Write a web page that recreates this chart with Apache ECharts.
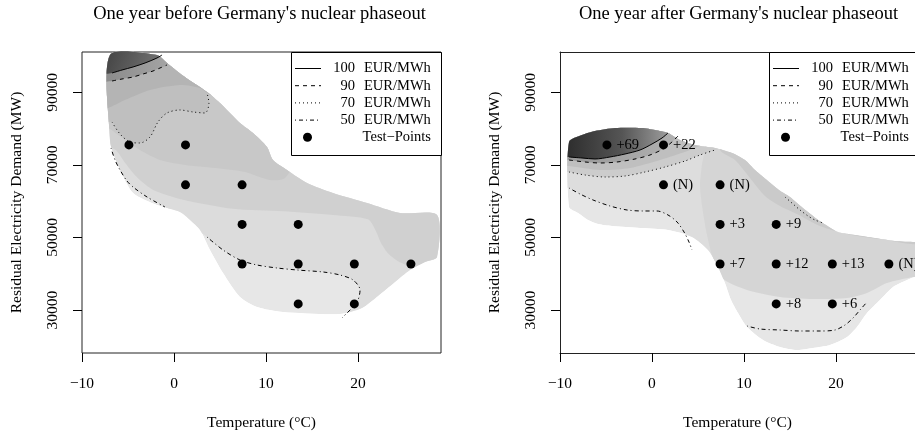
<!DOCTYPE html>
<html><head><meta charset="utf-8">
<script src="https://cdn.jsdelivr.net/npm/echarts@6.0.0/dist/echarts.min.js"></script>
<style>html,body{margin:0;padding:0;background:#fff}#c{width:915px;height:433px}</style>
</head><body><div id="c"></div>
<script>
// ---------- data ----------
const titles = ["One year before Germany's nuclear phaseout", "One year after Germany's nuclear phaseout"];
const xTicks = [-10, 0, 10, 20];
const yTicks = [30000, 50000, 70000, 90000];
const levelNames = ['100', '90', '70', '50'];
const pointTemps = [-4.9, 1.25, 1.25, 7.4, 7.4, 13.5, 7.4, 13.5, 19.6, 25.75, 13.5, 19.6];
const pointDemand = [75500, 75500, 64500, 64500, 53600, 53600, 42700, 42700, 42700, 42700, 31700, 31700];
const afterLabels = ['+69', '+22', '(N)', '(N)', '+3', '+9', '+7', '+12', '+13', '(N)', '+8', '+6'];

// left panel: region of the estimate and price bands (temperature, MW)
const leftOuter = [[-6.96,100276],[-1.85,100276],[-0.76,98072],[0.87,94766],[3.59,90083],[5.0,87051],[7.17,81542],[8.59,78787],[10.11,74930],[10.76,71349],[12.28,68594],[14.46,65013],[17.28,62258],[20.98,59503],[24.57,56748],[28.59,56197],[28.59,44626],[27.28,43248],[25.65,41044],[24.02,37738],[22.17,33881],[20.43,30575],[18.04,28923],[11.85,29474],[9.02,30851],[7.17,33606],[5.33,40218],[3.91,46554],[2.83,52064],[1.74,54819],[0.65,57022],[-1.85,58951],[-4.45,62257],[-5.87,68594],[-6.74,74104],[-6.96,76859]];
const leftBand50 = [[-8,74655],[-6.85,74655],[-6.41,71349],[-5.87,68594],[-5.11,65564],[-4.46,63911],[-2.93,61156],[-0.98,58401],[3.59,50136],[5.33,46554],[7.17,43799],[9.02,42422],[11.2,41595],[13.37,41044],[16.2,40493],[18.04,39667],[19.46,38289],[20.22,35534],[20.0,32779],[19.46,30851],[18.8,29198],[18.26,27820],[18.0,18500],[30,18500],[30,101600],[-8,101600]];
const leftBand58 = [[-8,77000],[-6.3,74000],[-5.3,70500],[-4.0,66500],[-2.2,63000],[0.98,60400],[6.41,57900],[11.85,57200],[17.28,56200],[21.09,55000],[21.9,52000],[22.5,48500],[23.3,45500],[24.3,43500],[25.65,41595],[26.74,35534],[30,35534],[30,101600],[-8,101600]];
const leftBand64 = [[-8,80139],[-7.17,80139],[-5.33,76859],[-3.7,74104],[-1.52,71349],[1.2,69972],[4.46,69145],[7.72,68043],[10.43,65839],[12.07,66390],[13.7,74104],[13.7,101600],[-8,101600]];
const leftBand70 = [[-8,81818],[-6.74,81818],[-5.87,78512],[-4.78,76308],[-3.7,76032],[-2.61,77685],[-1.74,81818],[-0.76,84297],[0.65,85124],[2.07,84573],[3.37,84297],[3.8,87052],[3.59,89807],[4.5,92000],[4.5,101600],[-8,101600]];
const leftBand80 = [[-8,85674],[-7.17,85674],[-5.33,87879],[-2.61,90634],[0.65,92011],[2.83,91185],[4.13,89256],[5.0,101600],[-8,101600]];
const leftBand90 = [[-8,93113],[-6.74,93113],[-5.65,93664],[-4.46,94215],[-3.37,95041],[-2.28,95868],[-1.52,96694],[-0.76,97521],[0.5,101600],[-8,101600]];
const leftBand100 = [[-8,95317],[-6.74,95317],[-5.65,96143],[-4.46,96970],[-3.15,98072],[-1.85,99449],[-1.3,100276],[-1.0,101600],[-8,101600]];
// left panel contour lines
const left100 = [[-6.74,95317],[-5.65,96143],[-4.46,96970],[-3.15,98072],[-1.85,99449],[-1.3,100276]];
const left90 = [[-6.74,93113],[-5.65,93664],[-4.46,94215],[-3.37,95041],[-2.28,95868],[-1.52,96694],[-0.76,97521]];
const left70 = [[-6.74,81818],[-5.87,78512],[-4.78,76308],[-3.7,76032],[-2.61,77685],[-1.74,81818],[-0.76,84297],[0.65,85124],[2.07,84573],[3.37,84297],[3.8,87052],[3.59,89807]];
const left50a = [[-6.85,74655],[-6.41,71349],[-5.87,68594],[-5.11,65564],[-4.46,63911],[-2.93,61156],[-0.98,58401]];
const left50b = [[3.59,50136],[5.33,46554],[7.17,43799],[9.02,42422],[11.2,41595],[13.37,41044],[16.2,40493],[18.04,39667],[19.46,38289],[20.22,35534],[20.0,32779],[19.46,30851],[18.8,29198],[18.26,27820]];

// right panel
const rightOuter = [[-9.02,76308],[-7.61,78237],[-6.2,79339],[-4.02,80165],[-1.09,80165],[0.33,79614],[1.74,78788],[3.04,76859],[4.67,75482],[6.85,74655],[8.7,73277],[10.11,71349],[11.2,68594],[12.61,65564],[13.8,63085],[15.0,61156],[16.41,58126],[17.93,55095],[18.91,53442],[20.22,51513],[22.07,50687],[24.24,49860],[26.41,49034],[28.59,48759],[30.22,48759],[30.22,38841],[28.59,39116],[27.72,38289],[26.2,36361],[24.78,32779],[23.37,29198],[22.28,25341],[21.2,22586],[19.35,20382],[17.5,19556],[15.76,19005],[13.91,19831],[12.07,21759],[10.33,25341],[9.35,29198],[8.59,32779],[7.93,37463],[7.17,41871],[6.09,46554],[4.35,50136],[1.74,52064],[-1.3,52615],[-4.35,53166],[-5.87,53717],[-6.96,54819],[-8.04,56747],[-9.02,58401]];
const rightBand50 = [[-10,63636],[-9.02,63636],[-7.83,61983],[-6.41,60330],[-4.57,58677],[-2.72,57575],[-0.98,57299],[0.54,57299],[1.74,56197],[2.72,54269],[3.48,51514],[4.02,48759],[4.35,46555],[5.22,43249],[7.0,44000],[7.5,52000],[7.0,60000],[7.0,81500],[-10,81500]];
const rightBand55 = [[5.76,74655],[5.43,69972],[5.22,64462],[5.43,58952],[5.87,52065],[6.52,45177],[7.61,38841],[10.33,35535],[13.91,33606],[17.5,33055],[21.2,33331],[23.37,34708],[25.54,37463],[28.37,39116],[29.67,39392],[29.67,81500],[5.76,81500]];
const rightBand62 = [[7.39,74104],[9.02,71349],[10.65,66390],[12.28,61431],[13.91,58677],[15.76,56473],[18.26,53167],[21.2,50963],[24.78,49585],[29.67,49034],[29.67,81500],[7.39,81500]];
const rightBand70 = [[-10,68044],[-9.02,68044],[-7.28,67217],[-5.11,66666],[-2.93,66942],[-0.76,68044],[1.41,69421],[3.59,71074],[5.22,72727],[6.85,74104],[7.39,74655],[7.39,81500],[-10,81500]];
const rightBand80 = [[-10,69697],[-9.02,69697],[-5.65,68594],[-2.39,69146],[0.87,71349],[4.13,74104],[5.76,76308],[5.76,81500],[-10,81500]];
const rightBand90 = [[-10,71349],[-9.02,71349],[-7.28,70798],[-5.65,70523],[-3.8,70798],[-1.85,71625],[-0.22,72727],[1.2,74380],[2.17,76308],[2.83,77961],[4.13,81500],[-10,81500]];
const rightBand100 = [[-10,72176],[-9.02,72176],[-7.61,71901],[-6.2,71625],[-4.57,72176],[-2.93,73002],[-1.3,74104],[0.0,75757],[1.09,77410],[1.74,78788],[2.5,81500],[-10,81500]];
const right100 = [[-9.02,72176],[-7.61,71901],[-6.2,71625],[-4.57,72176],[-2.93,73002],[-1.3,74104],[0.0,75757],[1.09,77410],[1.74,78788]];
const right90 = [[-9.02,71349],[-7.28,70798],[-5.65,70523],[-3.8,70798],[-1.85,71625],[-0.22,72727],[1.2,74380],[2.17,76308],[2.83,77961]];
const right70a = [[-9.02,68044],[-7.28,67217],[-5.11,66666],[-2.93,66942],[-0.76,68044],[1.41,69421],[3.59,71074],[5.22,72727],[6.85,74104]];
const right70b = [[14.46,61155],[15.33,59227],[16.09,57574],[16.96,55921],[17.72,54819],[18.59,53993]];
const right50a = [[-9.02,63636],[-7.83,61983],[-6.41,60330],[-4.57,58677],[-2.72,57575],[-0.98,57299],[0.54,57299],[1.74,56197],[2.72,54269],[3.48,51514],[4.02,48759],[4.35,46555]];
const right50b = [[10.33,25617],[11.74,24790],[13.91,24515],[16.09,24239],[18.26,24239],[19.89,24515],[20.98,25892],[21.85,27821],[22.61,30025],[23.37,32229]];

// ---------- styles ----------
const FONT = "'Liberation Serif', 'Times New Roman', serif";
const G = echarts.graphic;
const leftFills = ['#e7e7e7', '#dcdcdc', '#d0d0d0', '#c8c8c8', '#bfbfbf', '#b4b4b4',
  new G.LinearGradient(0, 0, 1, 0, [{offset: 0, color: '#888888'}, {offset: 1, color: '#a8a8a8'}]),
  new G.LinearGradient(0, 0, 1, 1, [{offset: 0, color: '#3c3c3c'}, {offset: 1, color: '#7a7a7a'}])];
const rightFills = ['#e6e6e6', '#dddddd', '#d5d5d5', '#cacaca', '#cccccc', '#bfbfbf',
  new G.LinearGradient(0, 0, 1, 0, [{offset: 0, color: '#959595'}, {offset: 1, color: '#b4b4b4'}]),
  new G.LinearGradient(0, 0, 1, 0, [{offset: 0, color: '#262626'}, {offset: 0.55, color: '#555555'}, {offset: 1, color: '#a8a8a8'}])];
const dashes = ['solid', [4, 4], [1, 3], [1, 3, 4, 3]];
const gdash = [null, [4, 4], [1, 3], [1, 3, 4, 3]];
const BOX = '#222';

function bandSeries(gi, outer, polys, fills) {
  return {
    type: 'custom', coordinateSystem: 'cartesian2d', xAxisIndex: gi, yAxisIndex: gi,
    data: polys.map((p, i) => [i]), silent: true, z: 1, animation: false,
    renderItem: function (params, api) {
      const i = params.dataIndex;
      const clip = outer.map(p => api.coord(p));
      const pts = polys[i].map(p => api.coord(p));
      return {
        type: 'group',
        clipPath: {type: 'polygon', shape: {points: clip, smooth: 0.25}},
        children: [{type: 'polygon', shape: {points: pts, smooth: 0.25}, style: {fill: fills[i], stroke: null}}]
      };
    }
  };
}
function lineSeries(gi, data, k) {
  return {type: 'line', xAxisIndex: gi, yAxisIndex: gi, data: data, smooth: 0.3, symbol: 'none',
    lineStyle: {color: '#000', width: 1, type: dashes[k]}, z: 3, silent: true, animation: false};
}
function pointSeries(gi, withLabels) {
  return {type: 'scatter', xAxisIndex: gi, yAxisIndex: gi, symbolSize: 9, z: 4, silent: true, animation: false,
    data: pointTemps.map((t, i) => [t, pointDemand[i]]), itemStyle: {color: '#000', opacity: 1},
    label: {show: withLabels, position: 'right', distance: 5, color: '#000', fontFamily: FONT, fontSize: 14.5,
      formatter: p => afterLabels[p.dataIndex]}};
}
function xAxisOpt(gi, max, showLine) {
  return {gridIndex: gi, type: 'value', min: -10, max: max, position: 'bottom',
    axisLine: {show: showLine, onZero: false, lineStyle: {color: BOX, width: 1}}, splitLine: {show: false},
    axisTick: {show: true, length: 9, customValues: xTicks, lineStyle: {color: '#000', width: 1}},
    axisLabel: {customValues: xTicks, margin: 23, color: '#000', fontFamily: FONT, fontSize: 15.5,
      formatter: v => (v < 0 ? '\u2212' + Math.abs(v) : String(v))},
    name: 'Temperature (\u00B0C)', nameLocation: 'middle', nameGap: 62,
    nameTextStyle: {color: '#000', fontFamily: FONT, fontSize: 15.5}};
}
function yAxisOpt(gi, showLine) {
  return {gridIndex: gi, type: 'value', min: 18177, max: 101100, position: 'left',
    axisLine: {show: showLine, onZero: false, lineStyle: {color: BOX, width: 1}}, splitLine: {show: false},
    axisTick: {show: true, length: 9, customValues: yTicks, lineStyle: {color: '#000', width: 1}},
    axisLabel: {customValues: yTicks, rotate: 90, margin: 21, color: '#000', fontFamily: FONT, fontSize: 15.5,
      formatter: v => String(v)},
    name: 'Residual Electricity Demand (MW)', nameLocation: 'middle', nameGap: 57, nameRotate: 90,
    nameTextStyle: {color: '#000', fontFamily: FONT, fontSize: 15.5}};
}
function legendGraphics(x0, w) {
  const els = [{type: 'rect', z: 100, shape: {x: x0 + 0.5, y: 52.5, width: w, height: 103},
    style: {fill: '#fff', stroke: '#000', lineWidth: 1}}];
  for (let i = 0; i < 5; i++) {
    const y = 68.5 + i * 17.2;
    if (i < 4) {
      els.push({type: 'line', z: 101, shape: {x1: x0 + 4, y1: y, x2: x0 + 30, y2: y},
        style: {stroke: '#000', lineWidth: 1, lineDash: gdash[i]}});
      els.push({type: 'text', z: 101, x: x0 + 64, y: y, style: {text: levelNames[i], align: 'right',
        verticalAlign: 'middle', font: '14.5px ' + FONT, fill: '#000'}});
      els.push({type: 'text', z: 101, x: x0 + 73, y: y, style: {text: 'EUR/MWh', align: 'left',
        verticalAlign: 'middle', font: '14.5px ' + FONT, fill: '#000'}});
    } else {
      els.push({type: 'circle', z: 101, shape: {cx: x0 + 16.5, cy: y, r: 4.5}, style: {fill: '#000'}});
      els.push({type: 'text', z: 101, x: x0 + 140, y: y, style: {text: 'Test\u2212Points', align: 'right',
        verticalAlign: 'middle', font: '14.5px ' + FONT, fill: '#000'}});
    }
  }
  return els;
}

const topAxis = {gridIndex: 1, type: 'value', min: -10, max: 28.587, position: 'top',
  axisLine: {show: true, onZero: false, lineStyle: {color: BOX, width: 1}},
  axisTick: {show: false}, axisLabel: {show: false}, splitLine: {show: false}};

const chart = echarts.init(document.getElementById('c'), null, {renderer: 'canvas'});
chart.setOption({
  animation: false,
  backgroundColor: '#fff',
  grid: [
    {left: 82, top: 52, width: 359, height: 301, show: true, borderColor: BOX, borderWidth: 1,
      backgroundColor: 'transparent', outerBoundsMode: 'none', containLabel: false},
    {left: 560, top: 52, width: 355, height: 301, show: false, outerBoundsMode: 'none', containLabel: false}
  ],
  xAxis: [xAxisOpt(0, 29.02, false), xAxisOpt(1, 28.587, true), topAxis],
  yAxis: [yAxisOpt(0, false), yAxisOpt(1, true)],
  series: [
    bandSeries(0, leftOuter, [leftOuter, leftBand50, leftBand58, leftBand64, leftBand70, leftBand80, leftBand90, leftBand100], leftFills),
    lineSeries(0, left100, 0), lineSeries(0, left90, 1), lineSeries(0, left70, 2),
    lineSeries(0, left50a, 3), lineSeries(0, left50b, 3),
    pointSeries(0, false),
    bandSeries(1, rightOuter, [rightOuter, rightBand50, rightBand55, rightBand62, rightBand70, rightBand80, rightBand90, rightBand100], rightFills),
    lineSeries(1, right100, 0), lineSeries(1, right90, 1), lineSeries(1, right70a, 2), lineSeries(1, right70b, 2),
    lineSeries(1, right50a, 3), lineSeries(1, right50b, 3),
    pointSeries(1, true)
  ],
  graphic: [
    {type: 'text', x: 259.5, y: 14, z: 100, style: {text: titles[0], align: 'center', verticalAlign: 'middle', font: '18.5px ' + FONT, fill: '#000'}},
    {type: 'text', x: 738.5, y: 14, z: 100, style: {text: titles[1], align: 'center', verticalAlign: 'middle', font: '18.5px ' + FONT, fill: '#000'}}
  ].concat(legendGraphics(291, 150), legendGraphics(769, 200))
});
</script></body></html>
